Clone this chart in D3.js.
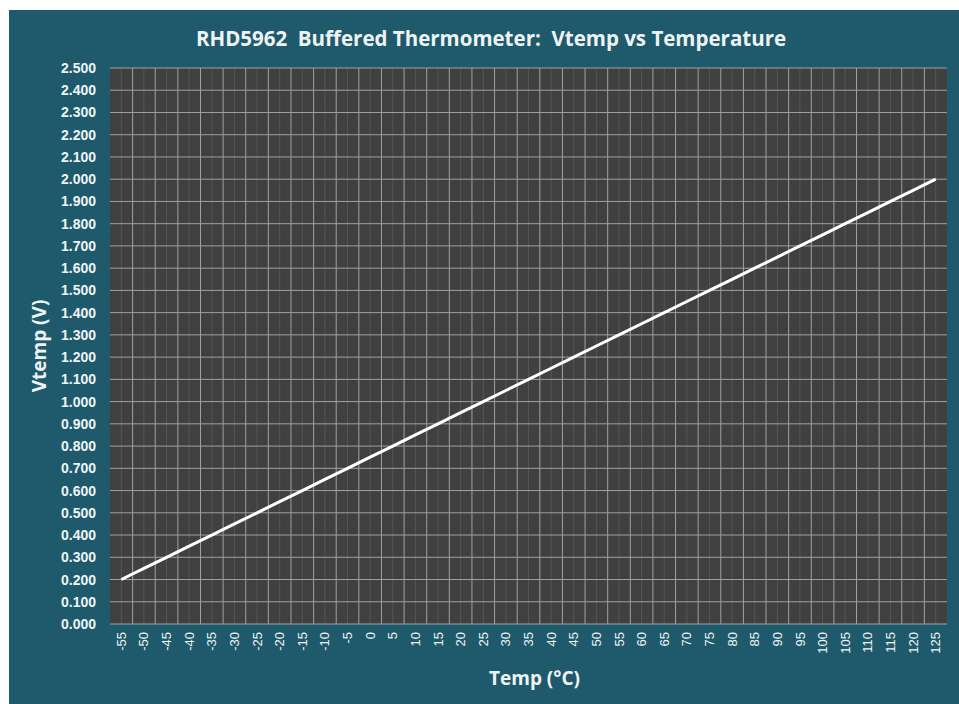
<!DOCTYPE html>
<html>
<head>
<meta charset="utf-8">
<script src="https://cdn.jsdelivr.net/npm/d3@7"></script>
<style>
  body { margin: 0; background: #ffffff; }
  svg { display: block; }
</style>
</head>
<body>
<script>
// chart data
var temps = [-55, -50, -45, -40, -35, -30, -25, -20, -15, -10, -5, 0, 5, 10, 15, 20, 25, 30,
             35, 40, 45, 50, 55, 60, 65, 70, 75, 80, 85, 90, 95, 100, 105, 110, 115, 120, 125];
var vtemp = [0.20, 0.25, 0.30, 0.35, 0.40, 0.45, 0.50, 0.55, 0.60, 0.65, 0.70, 0.75, 0.80,
             0.85, 0.90, 0.95, 1.00, 1.05, 1.10, 1.15, 1.20, 1.25, 1.30, 1.35, 1.40, 1.45,
             1.50, 1.55, 1.60, 1.65, 1.70, 1.75, 1.80, 1.85, 1.90, 1.95, 2.00];
var yTicks = [0, 0.1, 0.2, 0.3, 0.4, 0.5, 0.6, 0.7, 0.8, 0.9, 1.0, 1.1, 1.2, 1.3, 1.4, 1.5,
              1.6, 1.7, 1.8, 1.9, 2.0, 2.1, 2.2, 2.3, 2.4, 2.5];

window.onload = () => {
    var W = 959, H = 704;
    var margin = { top: 68, right: 12, bottom: 80, left: 110 },
        width = W - margin.left - margin.right,
        height = H - margin.top - margin.bottom;

    var svg = d3.select("body").append("svg")
        .attr("width", W)
        .attr("height", H);

    // teal panel
    svg.append("rect")
        .attr("x", 9).attr("y", 10)
        .attr("width", W - 9).attr("height", H - 10)
        .attr("fill", "#1f5a6c");

    svg.append("text")
        .attr("x", 491).attr("y", 46)
        .attr("text-anchor", "middle")
        .style("white-space", "pre")
        .style("font-family", "'Open Sans', sans-serif")
        .style("font-weight", "bold")
        .style("font-size", "20.5px")
        .attr("fill", "#eef4f4")
        .text("RHD5962  Buffered Thermometer:  Vtemp vs Temperature");

    var g = svg.append("g")
        .attr("transform", "translate(" + margin.left + "," + margin.top + ")");

    var x = d3.scaleBand().domain(temps).range([0, width]);
    var y = d3.scaleLinear().domain([0, 2.5]).range([height, 0]);

    // plot background
    g.append("rect")
        .attr("width", width).attr("height", height)
        .attr("fill", "#404040");

    // faint minor lines at category centers
    g.append("g").selectAll("line")
        .data(temps)
        .enter().append("line")
        .attr("x1", d => x(d) + x.bandwidth() / 2)
        .attr("x2", d => x(d) + x.bandwidth() / 2)
        .attr("y1", 0).attr("y2", height)
        .attr("stroke", "#555555")
        .attr("stroke-width", 1);

    // vertical gridlines at category boundaries
    g.append("g").selectAll("line")
        .data(temps.slice(1))
        .enter().append("line")
        .attr("x1", d => x(d))
        .attr("x2", d => x(d))
        .attr("y1", 0).attr("y2", height)
        .attr("stroke", "#a0a0a0")
        .attr("stroke-width", 1);

    // horizontal gridlines
    g.append("g").selectAll("line")
        .data(yTicks)
        .enter().append("line")
        .attr("x1", 0).attr("x2", width)
        .attr("y1", d => y(d)).attr("y2", d => y(d))
        .attr("stroke", "#a0a0a0")
        .attr("stroke-width", 1);

    // y axis
    var yAxis = g.append("g")
        .call(d3.axisLeft(y).tickValues(yTicks).tickFormat(d3.format(".3f")).tickSize(0).tickPadding(14));
    yAxis.select(".domain").remove();
    yAxis.selectAll("text")
        .style("font-family", "'Liberation Sans', Arial, sans-serif")
        .style("font-weight", "bold")
        .style("font-size", "14px")
        .attr("fill", "#eef4f4");

    // x axis
    var xAxis = g.append("g")
        .attr("transform", "translate(0," + height + ")")
        .call(d3.axisBottom(x).tickSize(0));
    xAxis.select(".domain").remove();
    xAxis.selectAll("text")
        .attr("transform", "rotate(-90)")
        .attr("x", -8).attr("y", 0).attr("dy", "0.35em")
        .style("text-anchor", "end")
        .style("font-family", "'Liberation Sans', Arial, sans-serif")
        .style("font-size", "13px")
        .attr("fill", "#eef4f4");

    // axis titles
    svg.append("text")
        .attr("x", margin.left + width / 2 + 6).attr("y", 685)
        .attr("text-anchor", "middle")
        .style("font-family", "'Open Sans', sans-serif")
        .style("font-weight", "bold")
        .style("font-size", "19px")
        .attr("fill", "#eef4f4")
        .text("Temp (°C)");

    svg.append("text")
        .attr("transform", "translate(46," + (margin.top + height / 2) + ") rotate(-90)")
        .attr("text-anchor", "middle")
        .style("font-family", "'Open Sans', sans-serif")
        .style("font-weight", "bold")
        .style("font-size", "19px")
        .attr("fill", "#eef4f4")
        .text("Vtemp (V)");

    // data line
    var line = d3.line()
        .x((d, i) => x(temps[i]) + x.bandwidth() / 2)
        .y(d => y(d));
    g.append("path")
        .datum(vtemp)
        .attr("d", line)
        .attr("fill", "none")
        .attr("stroke", "#ffffff")
        .attr("stroke-width", 3);
};
</script>
</body>
</html>
